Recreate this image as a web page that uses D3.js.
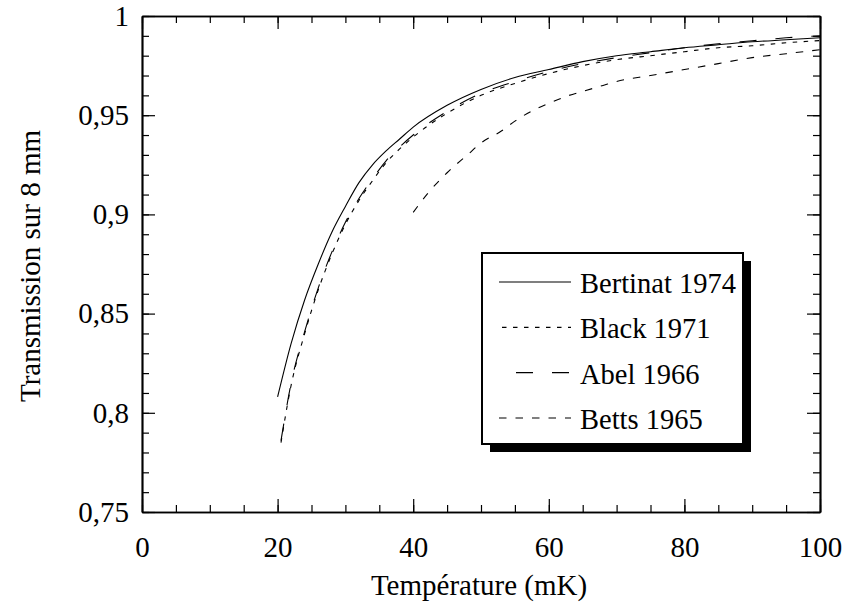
<!DOCTYPE html>
<html>
<head>
<meta charset="utf-8">
<script src="https://cdn.jsdelivr.net/npm/d3@7/dist/d3.min.js"></script>
<style>
  body { margin: 0; background: #fff; }
  svg { display: block; }
  svg text { font-family: "Liberation Serif", "Times New Roman", serif; fill: #000; }
</style>
</head>
<body>
<svg id="chart" width="846" height="608"></svg>
<script>
// ---- Data ----
const bertinatT = [20, 22, 24, 26, 28, 30, 32, 34, 36, 38, 40, 45, 50, 55, 60, 65, 70, 75, 80, 85, 90, 95, 100];
const bertinatV = [0.808, 0.835, 0.857, 0.875, 0.891, 0.904, 0.916, 0.925, 0.932, 0.938, 0.944, 0.955, 0.963, 0.969, 0.973, 0.977, 0.980, 0.982, 0.984, 0.9855, 0.987, 0.988, 0.989];

const blackT = [20.5, 22, 24, 26, 28, 30, 32, 34, 36, 38, 40, 45, 50, 55, 60, 65, 70, 75, 80, 85, 90, 95, 100];
const blackV = [0.785, 0.814, 0.840, 0.862, 0.880, 0.895, 0.907, 0.917, 0.926, 0.933, 0.939, 0.951, 0.960, 0.966, 0.971, 0.975, 0.978, 0.980, 0.982, 0.984, 0.985, 0.9865, 0.9876];

const abelT = [20.5, 22, 24, 26, 28, 30, 32, 34, 36, 38, 40, 45, 50, 55, 60, 65, 70, 75, 80, 85, 90, 95, 100];
const abelV = [0.786, 0.815, 0.841, 0.863, 0.881, 0.896, 0.908, 0.918, 0.927, 0.934, 0.940, 0.952, 0.961, 0.967, 0.972, 0.976, 0.979, 0.9815, 0.984, 0.986, 0.9875, 0.989, 0.990];

const bettsT = [40, 42, 45, 48, 50, 53, 55, 58, 60, 63, 65, 68, 70, 75, 80, 85, 90, 95, 100];
const bettsV = [0.901, 0.910, 0.921, 0.930, 0.936, 0.942, 0.947, 0.953, 0.956, 0.960, 0.962, 0.965, 0.967, 0.970, 0.973, 0.976, 0.979, 0.981, 0.983];

const xTicks = [0, 20, 40, 60, 80, 100];
const yTicks = [0.75, 0.8, 0.85, 0.9, 0.95, 1];
const yTickLabels = ["0,75", "0,8", "0,85", "0,9", "0,95", "1"];
const seriesNames = ["Bertinat 1974", "Black 1971", "Abel 1966", "Betts 1965"];
const xTitle = "Température (mK)";
const yTitle = "Transmission sur 8 mm";

// ---- Layout ----
const svg = d3.select("#chart");
const pLeft = 142, pRight = 820, pTop = 16, pBottom = 512;
const FONT = '"Liberation Serif", "Times New Roman", serif';
const FS = 29, LFS = 28.5;
const x = d3.scaleLinear().domain([0, 100]).range([pLeft, pRight]);
const y = d3.scaleLinear().domain([0.75, 1]).range([pBottom, pTop]);

const series = [
  { name: seriesNames[0], T: bertinatT, V: bertinatV, dash: null, off: 0 },
  { name: seriesNames[1], T: blackT, V: blackV, dash: "4.5,6.5", off: 8 },
  { name: seriesNames[2], T: abelT, V: abelV, dash: "17,19", off: 19 },
  { name: seriesNames[3], T: bettsT, V: bettsV, dash: "7.5,9", off: 0 }
];

const line = d3.line().x(d => x(d[0])).y(d => y(d[1])).curve(d3.curveMonotoneX);
const plot = svg.append("g");
series.forEach(s => {
  plot.append("path")
    .datum(s.T.map((t, i) => [t, s.V[i]]))
    .attr("d", line)
    .attr("fill", "none")
    .attr("stroke", "#000")
    .attr("stroke-width", 1.1)
    .attr("stroke-dasharray", s.dash);
});

// ---- Axes (ticks inward on all four sides) ----
const xMinor = d3.range(0, 101, 5);
const yMinor = d3.range(0, 26).map(i => +(0.75 + i * 0.01).toFixed(2));
const major = 13, minor = 7;

function axisStyle(g) {
  g.select(".domain").attr("stroke", "#000").attr("stroke-width", 1.7);
  g.selectAll(".tick line").attr("stroke", "#000").attr("stroke-width", 1.2);
}
function labelStyle(g) {
  g.select(".domain").remove();
  g.selectAll("text").attr("font-family", FONT).attr("font-size", FS).attr("fill", "#000");
}

// bottom
svg.append("g").attr("transform", `translate(0,${pBottom})`)
  .call(d3.axisTop(x).tickValues(xMinor).tickSize(minor).tickFormat("").tickSizeOuter(0)).call(axisStyle);
svg.append("g").attr("transform", `translate(0,${pBottom})`)
  .call(d3.axisTop(x).tickValues(xTicks).tickSize(major).tickFormat("").tickSizeOuter(0)).call(axisStyle);
svg.append("g").attr("transform", `translate(0,${pBottom})`)
  .call(d3.axisBottom(x).tickValues(xTicks).tickSize(0).tickPadding(24).tickSizeOuter(0))
  .call(labelStyle);
// top
svg.append("g").attr("transform", `translate(0,${pTop})`)
  .call(d3.axisBottom(x).tickValues(xMinor).tickSize(minor).tickFormat("").tickSizeOuter(0)).call(axisStyle);
svg.append("g").attr("transform", `translate(0,${pTop})`)
  .call(d3.axisBottom(x).tickValues(xTicks).tickSize(major).tickFormat("").tickSizeOuter(0)).call(axisStyle);
// left
svg.append("g").attr("transform", `translate(${pLeft},0)`)
  .call(d3.axisRight(y).tickValues(yMinor).tickSize(minor).tickFormat("").tickSizeOuter(0)).call(axisStyle);
svg.append("g").attr("transform", `translate(${pLeft},0)`)
  .call(d3.axisRight(y).tickValues(yTicks).tickSize(major).tickFormat("").tickSizeOuter(0)).call(axisStyle);
svg.append("g").attr("transform", `translate(${pLeft},0)`)
  .call(d3.axisLeft(y).tickValues(yTicks).tickSize(0).tickPadding(13).tickSizeOuter(0)
    .tickFormat((d, i) => yTickLabels[i]))
  .call(labelStyle);
// right
svg.append("g").attr("transform", `translate(${pRight},0)`)
  .call(d3.axisLeft(y).tickValues(yMinor).tickSize(minor).tickFormat("").tickSizeOuter(0)).call(axisStyle);
svg.append("g").attr("transform", `translate(${pRight},0)`)
  .call(d3.axisLeft(y).tickValues(yTicks).tickSize(major).tickFormat("").tickSizeOuter(0)).call(axisStyle);

// ---- Titles ----
svg.append("text").attr("x", (pLeft + pRight) / 2 - 2).attr("y", 595)
  .attr("text-anchor", "middle").attr("font-family", FONT).attr("font-size", FS).text(xTitle);
svg.append("text").attr("transform", `translate(40,266) rotate(-90)`)
  .attr("text-anchor", "middle").attr("font-family", FONT).attr("font-size", FS).text(yTitle);

// ---- Legend ----
const lg = { x: 482, y: 253, w: 261, h: 191, sh: 8 };
const legend = svg.append("g");
legend.append("rect").attr("x", lg.x + lg.sh).attr("y", lg.y + lg.sh)
  .attr("width", lg.w).attr("height", lg.h).attr("fill", "#000");
legend.append("rect").attr("x", lg.x).attr("y", lg.y)
  .attr("width", lg.w).attr("height", lg.h).attr("fill", "#fff")
  .attr("stroke", "#000").attr("stroke-width", 2);
const rowY = d3.scalePoint().domain(seriesNames).range([lg.y + 29, lg.y + 165]);
series.forEach(s => {
  const yy = rowY(s.name);
  legend.append("line").attr("x1", lg.x + 17).attr("x2", lg.x + 89)
    .attr("y1", yy).attr("y2", yy)
    .attr("stroke", "#000").attr("stroke-width", 1.1)
    .attr("stroke-dasharray", s.dash).attr("stroke-dashoffset", s.off);
  legend.append("text").attr("x", lg.x + 98).attr("y", yy + 11)
    .attr("font-family", FONT).attr("font-size", LFS).text(s.name);
});
</script>
</body>
</html>
